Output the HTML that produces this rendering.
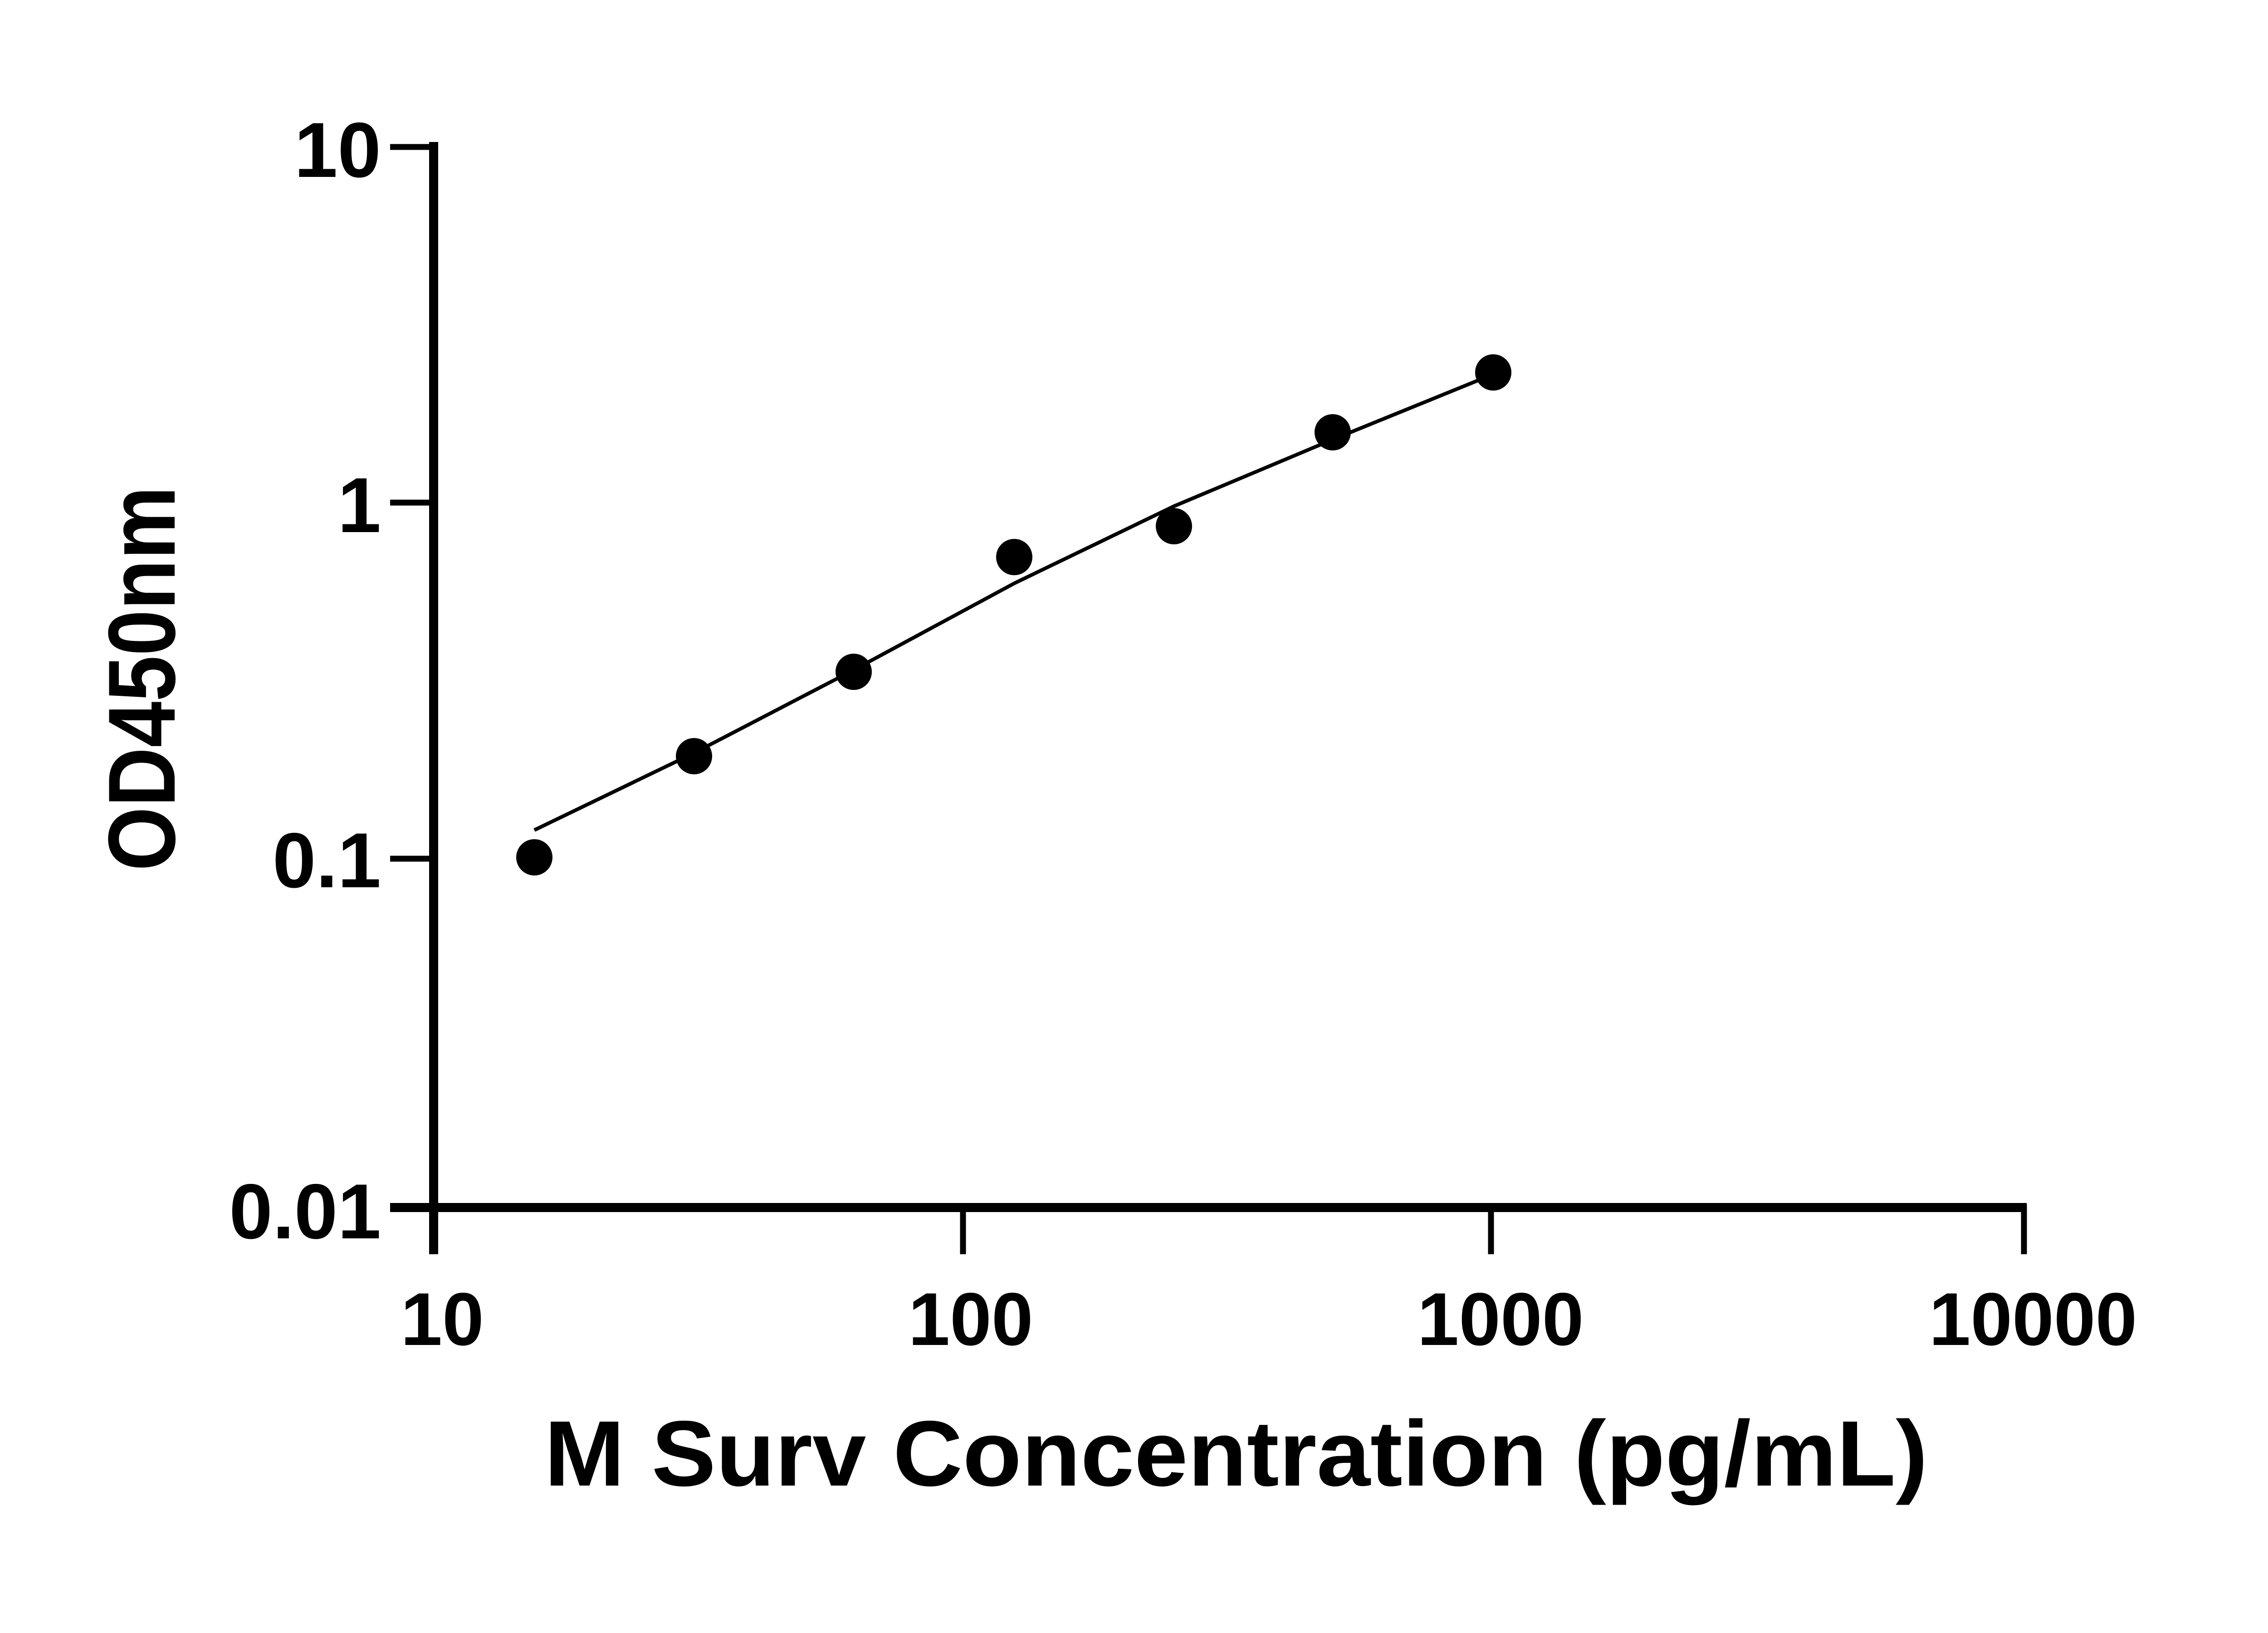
<!DOCTYPE html>
<html><head><style>html,body{margin:0;padding:0;background:#fff;}svg{display:block}</style></head>
<body>
<svg width="5130" height="3600" viewBox="0 0 5130 3600" xmlns="http://www.w3.org/2000/svg">
<rect width="5130" height="3600" fill="#fff"/>
<g stroke="#000" fill="none">
<line x1="956" y1="313" x2="956" y2="2765" stroke-width="20"/>
<line x1="860" y1="2662" x2="4468" y2="2662" stroke-width="20"/>
<g stroke-width="13">
<line x1="860" y1="324" x2="956" y2="324"/>
<line x1="860" y1="1108" x2="956" y2="1108"/>
<line x1="860" y1="1893" x2="956" y2="1893"/>
<line x1="860" y1="2662" x2="956" y2="2662"/>
<line x1="2123" y1="2662" x2="2123" y2="2765"/>
<line x1="3287" y1="2662" x2="3287" y2="2765"/>
<line x1="4462" y1="2655" x2="4462" y2="2765"/>
</g>
<path d="M1178,1830 L1530,1660 L1882,1477 L2236,1286 L2588,1116 L2938,969 L3292,825" stroke-width="8" stroke-linejoin="round"/>
</g>
<g fill="#000">
<circle cx="1178" cy="1890" r="40"/>
<circle cx="1530" cy="1667" r="40"/>
<circle cx="1882" cy="1481" r="40"/>
<circle cx="2236" cy="1228" r="40"/>
<circle cx="2588" cy="1160" r="40"/>
<circle cx="2938" cy="953" r="40"/>
<circle cx="3292" cy="821" r="40"/>
</g>
<g font-family="Liberation Sans, sans-serif" font-weight="bold" font-size="172" fill="#000" text-anchor="end">
<text x="840" y="390">10</text>
<text x="840" y="1173">1</text>
<text x="840" y="1956">0.1</text>
<text x="840" y="2730">0.01</text>
</g>
<g font-family="Liberation Sans, sans-serif" font-weight="bold" font-size="165" fill="#000" text-anchor="middle">
<text x="975" y="2965">10</text>
<text x="2140" y="2965">100</text>
<text x="3308" y="2965">1000</text>
<text x="4482" y="2965">10000</text>
</g>
<text x="1200" y="3275" font-family="Liberation Sans, sans-serif" font-weight="bold" font-size="205" textLength="3050" lengthAdjust="spacingAndGlyphs">M Surv Concentration (pg/mL)</text>
<text transform="translate(385,1920) rotate(-90)" font-family="Liberation Sans, sans-serif" font-weight="bold" font-size="210" textLength="848" lengthAdjust="spacingAndGlyphs">OD450nm</text>
</svg>
</body></html>
